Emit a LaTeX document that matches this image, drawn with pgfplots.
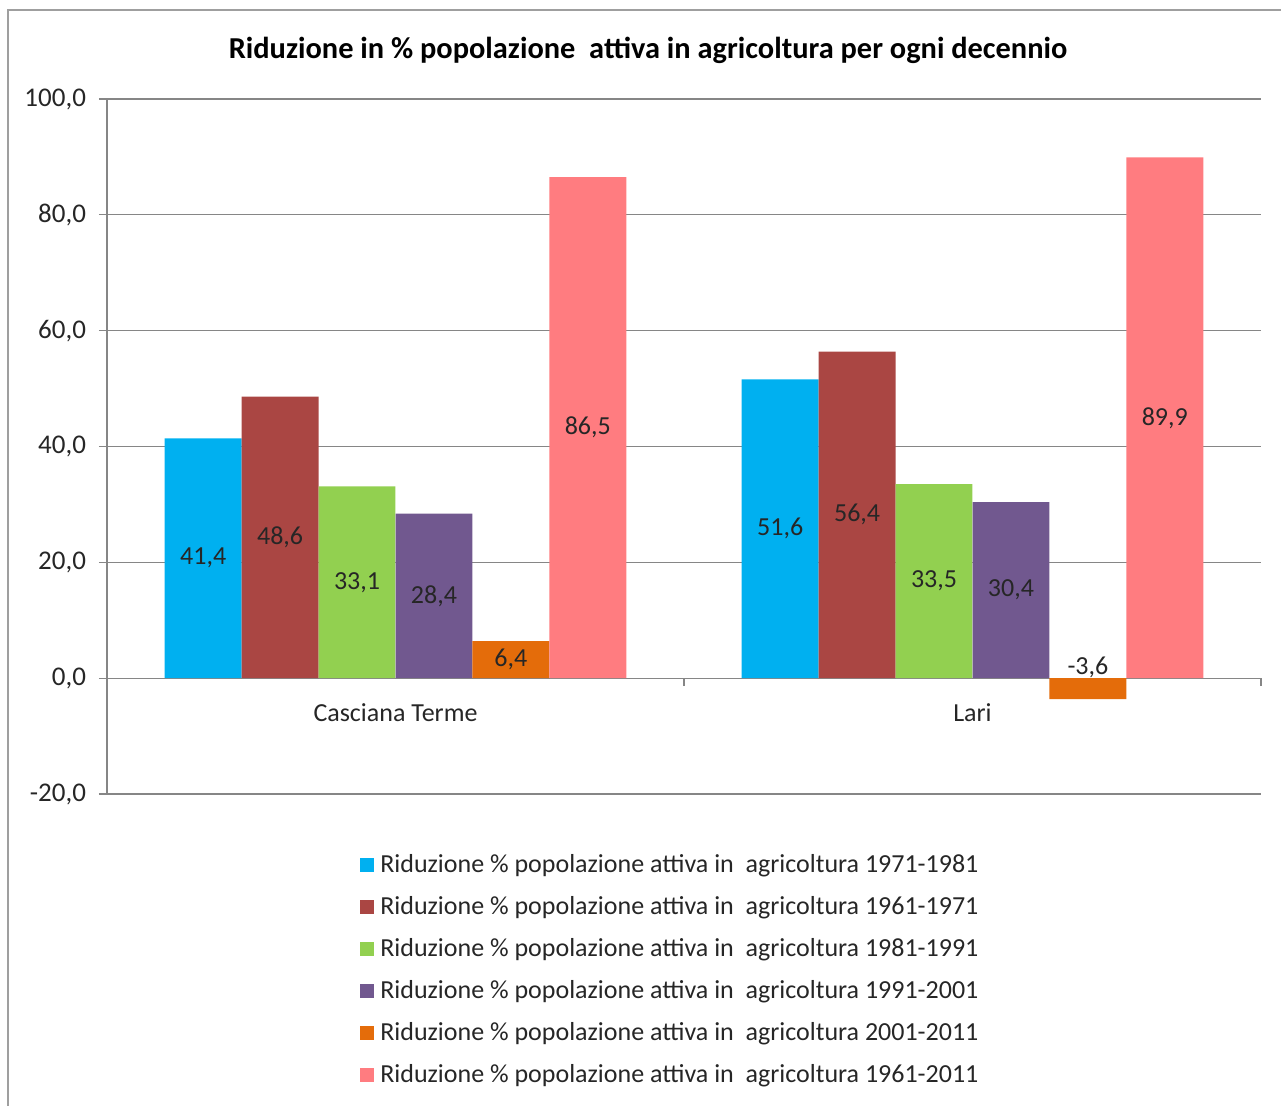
\documentclass[border=0pt]{standalone}
\usepackage{fontspec}
\setmainfont{Carlito}
\usepackage{pgfplots}
\pgfplotsset{compat=1.18}
\usepackage{pgfplotstable}

\definecolor{cA}{RGB}{0,176,240}
\definecolor{cB}{RGB}{170,70,67}
\definecolor{cC}{RGB}{146,208,80}
\definecolor{cD}{RGB}{113,88,143}
\definecolor{cE}{RGB}{228,108,10}
\definecolor{cF}{RGB}{255,124,128}
\definecolor{gridgray}{RGB}{134,134,134}

% one row per comune, one column per decade
\pgfplotstableread{
x   a     b     c     d     e     f
0   41.4  48.6  33.1  28.4  6.4   86.5
1   51.6  56.4  33.5  30.4  -3.6  89.9
}\data

\pgfplotsset{
  mybar/.style={ybar, bar width=0.1333, bar shift=#1, draw=none,
    legend image code/.code={\fill[##1] (0pt,-3.5pt) rectangle (7pt,3.5pt);}},
  mylab/.style={draw=none, mark=none, forget plot,
    nodes near coords={\pgfmathprintnumber[fixed,fixed zerofill,precision=1,use comma,assume math mode=true]{\pgfplotspointmeta}},
    every node near coord/.style={anchor=center, font=\fontsize{13}{15}\selectfont, text=black!85}},
}

\begin{document}
\begin{tikzpicture}
\begin{scope}[x=0.5pt,y=-0.5pt]
  \useasboundingbox (0,0) rectangle (1281,1106);
  \draw[gray!75, line width=1.2pt] (8,1120) -- (8,10) -- (1290,10);
  \node[font=\bfseries\fontsize{15.2}{18}\selectfont] at (648,50)
    {Riduzione in \% popolazione\ \ attiva in agricoltura per ogni decennio};
\end{scope}
\begin{axis}[
  at={(53.5pt,-397pt)}, anchor=south west,
  scale only axis, width=577pt, height=347.5pt,
  xmin=-0.5, xmax=1.5, ymin=-20, ymax=100,
  axis x line*=middle, axis y line*=left,
  axis line style={gridgray, line width=0.6pt},
  ytick={-20,0,20,40,60,80,100},
  ymajorgrids, grid style={gridgray, line width=0.6pt},
  yticklabel={\pgfmathprintnumber[fixed,fixed zerofill,precision=1,use comma,assume math mode=true]{\tick}},
  yticklabel style={font=\fontsize{13.5}{15}\selectfont, text=black!85, xshift=-3pt},
  xtick={-0.5,0.5,1.5}, xticklabels={},
  extra x ticks={0,1}, extra x tick labels={Casciana Terme, Lari},
  extra x tick style={major tick length=0pt, tick label style={yshift=-9pt}},
  xticklabel style={font=\fontsize{13}{15}\selectfont, text=black!85},
  tick align=outside, major tick length=4pt,
  tick style={gridgray, line width=0.6pt},
  clip=false,
  legend style={at={(0.2192,-0.083)}, anchor=north west, draw=none, fill=none,
    inner sep=0pt, font=\fontsize{13}{15}\selectfont, row sep=8.5pt, column sep=2pt,
    nodes={inner sep=1pt}, text=black!85},
  legend cell align=left,
]
\addplot[mybar=-0.3333, fill=cA] table[x=x,y=a]{\data};
\addlegendentry{Riduzione \% popolazione attiva in\ \ agricoltura 1971-1981}
\addplot[mybar=-0.2, fill=cB] table[x=x,y=b]{\data};
\addlegendentry{Riduzione \% popolazione attiva in\ \ agricoltura 1961-1971}
\addplot[mybar=-0.0667, fill=cC] table[x=x,y=c]{\data};
\addlegendentry{Riduzione \% popolazione attiva in\ \ agricoltura 1981-1991}
\addplot[mybar=0.0667, fill=cD] table[x=x,y=d]{\data};
\addlegendentry{Riduzione \% popolazione attiva in\ \ agricoltura 1991-2001}
\addplot[mybar=0.2, fill=cE] table[x=x,y=e]{\data};
\addlegendentry{Riduzione \% popolazione attiva in\ \ agricoltura 2001-2011}
\addplot[mybar=0.3333, fill=cF] table[x=x,y=f]{\data};
\addlegendentry{Riduzione \% popolazione attiva in\ \ agricoltura 1961-2011}

% value labels, centred in each bar
\addplot[mylab, point meta=\thisrow{a}] table[x expr=\thisrow{x}-0.3333, y expr=abs(\thisrow{a})/2]{\data};
\addplot[mylab, point meta=\thisrow{b}] table[x expr=\thisrow{x}-0.2, y expr=abs(\thisrow{b})/2]{\data};
\addplot[mylab, point meta=\thisrow{c}] table[x expr=\thisrow{x}-0.0667, y expr=abs(\thisrow{c})/2]{\data};
\addplot[mylab, point meta=\thisrow{d}] table[x expr=\thisrow{x}+0.0667, y expr=abs(\thisrow{d})/2]{\data};
\addplot[mylab, point meta=\thisrow{e}] table[x expr=\thisrow{x}+0.2, y expr=abs(\thisrow{e})/2]{\data};
\addplot[mylab, point meta=\thisrow{f}] table[x expr=\thisrow{x}+0.3333, y expr=abs(\thisrow{f})/2]{\data};
\end{axis}
\end{tikzpicture}
\end{document}
